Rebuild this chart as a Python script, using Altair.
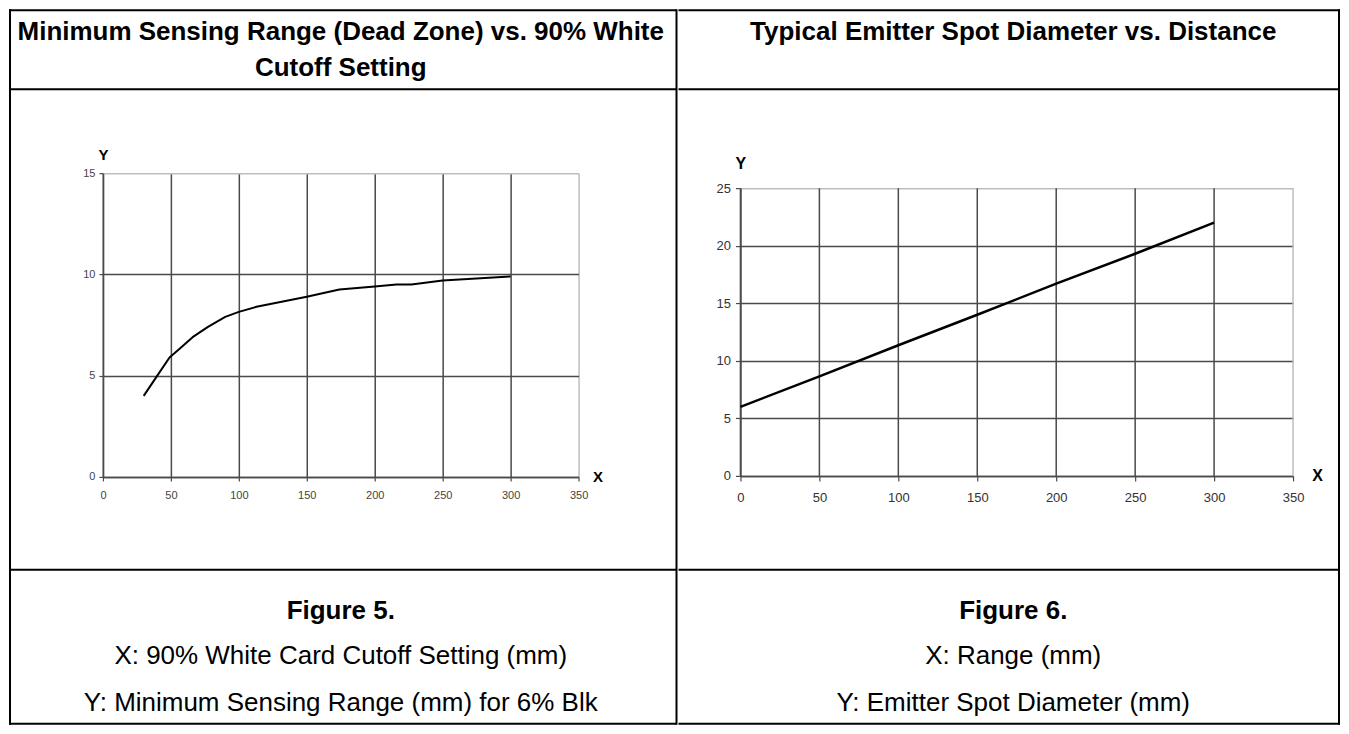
import altair as alt
import pandas as pd

# ---------------- data ----------------
fig5_x = [30, 41, 49, 56, 66, 77, 90, 100, 113, 150, 174, 200, 216, 227, 250, 300]
fig5_y = [4.0, 5.1, 5.9, 6.3, 6.9, 7.4, 7.9, 8.15, 8.4, 8.9, 9.25, 9.4, 9.5, 9.5, 9.7, 9.9]
fig6_x = [0, 50, 100, 150, 200, 250, 300]
fig6_y = [6.0, 8.65, 11.35, 14.0, 16.7, 19.3, 22.0]
x_ticks = [0, 50, 100, 150, 200, 250, 300, 350]
fig5_y_ticks = [0, 5, 10, 15]
fig6_y_ticks = [0, 5, 10, 15, 20, 25]

header_left = ["Minimum Sensing Range (Dead Zone) vs. 90% White", "Cutoff Setting"]
header_right = ["Typical Emitter Spot Diameter vs. Distance"]
caption_left = ["Figure 5.", "X: 90% White Card Cutoff Setting (mm)",
                "Y: Minimum Sensing Range (mm) for 6% Blk"]
caption_right = ["Figure 6.", "X: Range (mm)", "Y: Emitter Spot Diameter (mm)"]

df5 = pd.DataFrame({"x": fig5_x, "y": fig5_y})
df6 = pd.DataFrame({"x": fig6_x, "y": fig6_y})
df_grid = pd.DataFrame({"v": x_ticks})

FONT = "Liberation Sans"
DARK = "#4a4a4a"
LIGHT = "#bdbdbd"

# page-space layout (pixels)
T_L, T_R, T_T, T_B = 9, 1339, 9, 723
HEAD_Y, CAP_Y, DIV_X = 88, 569, 676
O5 = (102, 172)   # plot origin of figure 5
O6 = (740, 172)   # panel origin of figure 6 (its plot top sits 15px lower)


def one():
    return alt.Data(values=[{"k": 0}])


def rule(x1, y1, x2, y2, o, sw=2.0):
    return alt.Chart(one()).mark_rule(color="black", strokeWidth=sw).encode(
        x=alt.value(x1 - o[0]), x2=alt.value(x2 - o[0]),
        y=alt.value(y1 - o[1]), y2=alt.value(y2 - o[1]))


def label(text, x, y, o, size=26, weight="normal"):
    return alt.Chart(one()).mark_text(
        text=text, font=FONT, fontSize=size, fontWeight=weight, color="black",
        align="center", baseline="middle").encode(
        x=alt.value(x - o[0]), y=alt.value(y - o[1]))


def grid_color(edge_value):
    return {"condition": {"test": f"datum.value === {edge_value}", "value": LIGHT},
            "value": DARK}


def x_axis(title_x, lsize, lcolor, tick, pad, tsize, grid):
    kw = dict(values=x_ticks, title="X", titleX=title_x, titleY=0,
              titleAlign="center", titleBaseline="middle", titleAngle=0,
              titleFont=FONT, titleFontSize=tsize, titleFontWeight="bold",
              titleColor="black", labelFont=FONT, labelFontSize=lsize,
              labelColor=lcolor, labelPadding=pad, labelFlush=False,
              labelOverlap=False, tickSize=tick, tickColor=DARK,
              tickWidth=1.2, domainColor=DARK, domainWidth=1.5, grid=grid)
    if grid:
        kw.update(gridColor=grid_color(350), gridWidth=1.5, gridOpacity=1)
    return alt.Axis(**kw)


def y_axis(vals, top, title_y, lsize, lcolor, tick, pad, tsize):
    return alt.Axis(values=vals, title="Y", titleX=0, titleY=title_y,
                    titleAlign="center", titleBaseline="middle", titleAngle=0,
                    titleFont=FONT, titleFontSize=tsize, titleFontWeight="bold",
                    titleColor="black", labelFont=FONT, labelFontSize=lsize,
                    labelColor=lcolor, labelPadding=pad, labelFlush=False,
                    labelOverlap=False, tickSize=tick, tickColor=DARK,
                    tickWidth=1.2, domainColor=DARK, domainWidth=1.5,
                    grid=True, gridColor=grid_color(top), gridWidth=1.5,
                    gridOpacity=1)


# ---------------- Figure 5 panel ----------------
line5 = alt.Chart(df5).mark_line(color="black", strokeWidth=2, strokeJoin="round").encode(
    x=alt.X("x:Q", scale=alt.Scale(domain=[0, 350], nice=False),
            axis=x_axis(597 - O5[0], 11, "#444444", 4, 9, 15, True)),
    y=alt.Y("y:Q", scale=alt.Scale(domain=[0, 15], nice=False),
            axis=y_axis(fig5_y_ticks, 15, 153 - O5[1], 11, "#444444", 4, 4, 15)),
).properties(width=476, height=304)

cx5 = 340
left_layers = [
    line5,
    rule(T_L - 1, T_T, DIV_X, T_T, O5),
    rule(T_L - 1, HEAD_Y, DIV_X, HEAD_Y, O5),
    rule(T_L - 1, CAP_Y, DIV_X, CAP_Y, O5),
    rule(T_L - 1, T_B, DIV_X, T_B, O5),
    rule(T_L, T_T - 1, T_L, T_B + 1, O5),
    rule(DIV_X, T_T - 1, DIV_X, T_B + 1, O5),
    label(header_left[0], cx5, 31, O5, 26, "bold"),
    label(header_left[1], cx5, 67, O5, 26, "bold"),
    label(caption_left[0], cx5, 610, O5, 26, "bold"),
    label(caption_left[1], cx5, 655, O5, 26),
    label(caption_left[2], cx5, 702, O5, 26),
]
left = alt.layer(*left_layers)

# ---------------- Figure 6 panel ----------------
P6_H = 303            # panel plot height (172..475)
P6_TOP = 187 - O6[1]  # where the value 25 sits inside the panel
x6_scale = alt.Scale(domain=[0, 350], nice=False)
x6_axis = x_axis(1317 - O6[0], 13, "#333333", 5, 11, 16, False)

vgrid6 = alt.Chart(df_grid).mark_rule(strokeWidth=1.5).encode(
    x=alt.X("v:Q", scale=x6_scale, axis=x6_axis),
    y=alt.value(P6_TOP), y2=alt.value(P6_H),
    color=alt.condition("datum.v === 350", alt.value(LIGHT), alt.value(DARK)),
)
line6 = alt.Chart(df6).mark_line(color="black", strokeWidth=2.5, strokeJoin="round").encode(
    x=alt.X("x:Q", scale=x6_scale, axis=x6_axis),
    y=alt.Y("y:Q", scale=alt.Scale(domain=[0, 25], nice=False, range=[P6_H, P6_TOP]),
            axis=y_axis(fig6_y_ticks, 25, 162 - O6[1], 13, "#333333", 5, 5, 16)),
)

cx6 = 1013
xs = DIV_X + 2
right_layers = [
    vgrid6,
    line6,
    rule(xs, T_T, T_R + 1, T_T, O6),
    rule(xs, HEAD_Y, T_R + 1, HEAD_Y, O6),
    rule(xs, CAP_Y, T_R + 1, CAP_Y, O6),
    rule(xs, T_B, T_R + 1, T_B, O6),
    rule(T_R, T_T - 1, T_R, T_B + 1, O6),
    label(header_right[0], cx6, 31, O6, 26, "bold"),
    label(caption_right[0], cx6, 610, O6, 26, "bold"),
    label(caption_right[1], cx6, 655, O6, 26),
    label(caption_right[2], cx6, 702, O6, 26),
]
right = alt.layer(*right_layers).properties(width=553, height=P6_H)

chart = alt.hconcat(left, right, spacing=0).properties(
    padding=0, background="white"
).configure_view(stroke=None)

chart.save("out.html", embed_options={"renderer": "svg", "actions": False})
